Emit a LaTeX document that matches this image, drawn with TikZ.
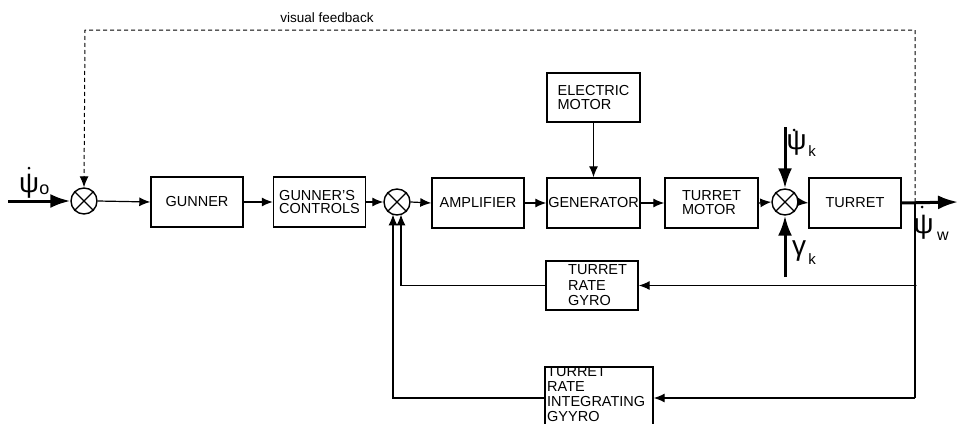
\documentclass[tikz,border=0pt]{standalone}
\usepackage{fontspec}
\setmainfont{Liberation Sans}
\usetikzlibrary{arrows.meta}
\begin{document}
\begin{tikzpicture}[x=1pt,y=-1pt,
  blk/.style={draw,line width=1.4pt,minimum width=92pt,minimum height=50pt,inner sep=0pt,
    font=\fontsize{14.5}{14}\selectfont,align=left},
  boxtext/.style={inner sep=0pt,font=\fontsize{14.5}{15.5}\selectfont,align=left},
  sumc/.style={draw,circle,line width=1.4pt,minimum size=26pt,inner sep=0pt},
  sig/.style={line width=1.2pt,-{Latex[length=11pt,width=9pt]}},
  bigsig/.style={line width=3pt,-{Latex[length=20pt,width=14pt]}},
  wire/.style={line width=1.2pt},
  dsig/.style={line width=1pt,dash pattern=on 4pt off 3pt,-{Latex[length=11pt,width=9pt]}},
  glabel/.style={inner sep=0pt,font=\fontsize{28}{28}\selectfont},
  sublabel/.style={inner sep=0pt,font=\fontsize{15}{15}\selectfont},
]
\clip (0,0) rectangle (958,423);
\fill[white] (0,0) rectangle (958,423);

% blocks
\node[blk] (gunner) at (197,202) {GUNNER};
\node[blk,font=\fontsize{14.5}{13}\selectfont] (ctrl) at (319.5,202) {GUNNER'S\\CONTROLS};
\node[blk] (amp) at (478,203) {AMPLIFIER};
\node[blk,minimum width=93pt] (gen) at (593.5,203) {GENERATOR};
\node[blk,minimum width=93pt,minimum height=49pt] (em) at (593.5,97.5) {ELECTRIC\\MOTOR};
\node[blk,minimum width=93pt] (tm) at (711.5,203) {TURRET\\MOTOR};
\node[blk] (tur) at (855,203) {TURRET};
\node[blk,minimum height=49pt] (gyro) at (592,285.5) {};
\node[boxtext,anchor=west] (gyrot) at (568,285.5) {TURRET\\RATE\\GYRO};
\node[blk,minimum width=108pt,minimum height=62pt] (igyro) at (599,398) {};
\node[boxtext,anchor=north west,font=\fontsize{14.5}{15}\selectfont] (igyrot) at (547,366) {TURRET\\RATE\\INTEGRATING\\GYYRO};

% summing junctions
\node[sumc] (s1) at (84,201) {};
\node[sumc] (s2) at (397,202) {};
\node[sumc] (s3) at (785,202) {};
\foreach \s in {s1,s2,s3}{
  \draw[line width=1.2pt] (\s.north west) -- (\s.south east);
  \draw[line width=1.2pt] (\s.north east) -- (\s.south west);
}

% coordinates
\coordinate (in) at (8,201);
\coordinate (out) at (958,202);
\coordinate (br) at (915,202);
\coordinate (c1) at (915,285.5);
\coordinate (c2) at (915,398);
\coordinate (pk) at (785,127);
\coordinate (gk) at (785,277);
\coordinate (tr) at (915,30);
\coordinate (tl) at (85,30);
\coordinate (s2r) at (401,214.4);
\coordinate (s2l) at (393,214.4);

% forward path
\draw[bigsig] (in) -- (s1.west);
\draw[sig] (s1.east) -- (gunner.west);
\draw[sig] (gunner.east) -- (ctrl.west);
\draw[sig] (ctrl.east) -- (s2.west);
\draw[sig] (s2.east) -- (amp.west);
\draw[sig] (amp.east) -- (gen.west);
\draw[sig] (em.south) -- (gen.north);
\draw[sig] (gen.east) -- (tm.west);
\draw[sig] (tm.east) -- (s3.west);
\draw[sig] (s3.east) -- (tur.west);
\draw[bigsig] (tur.east) -- (out);
\draw[bigsig] (pk) -- (s3.north);
\draw[bigsig] (gk) -- (s3.south);

% feedback
\draw[wire] (br) -- (c2);
\fill (c1) circle (1.6pt);
\draw[sig] (c1) -- (gyro.east);
\draw[sig] (c2) -- (igyro.east);
\draw[sig] (gyro.west) -| (s2r);
\draw[sig] (igyro.west) -| (s2l);
\draw[dsig] (br) -- (tr) -- (tl) -- (s1.north);

% labels
\node[inner sep=0pt,font=\fontsize{13.5}{13.5}\selectfont] (vf) at (327,18) {visual feedback};

\node[glabel] (lpo) at (29,186) {ψ};
\fill (29,168) circle (1.5pt);
\node[sublabel,font=\fontsize{18}{18}\selectfont] (lpos) at (44.5,190) {o};

\node[glabel] (lpk) at (796.5,143) {ψ};
\fill (794,130) circle (1.5pt);
\node[sublabel] (lpks) at (812,151) {k};

\node[glabel] (lgk) at (799,251) {γ};
\node[sublabel] (lgks) at (812,259) {k};

\node[glabel] (lpw) at (923.5,227) {ψ};
\fill (922,207) circle (1.5pt);
\node[sublabel,font=\fontsize{16}{16}\selectfont] (lpws) at (943,236) {w};
\end{tikzpicture}
\end{document}
